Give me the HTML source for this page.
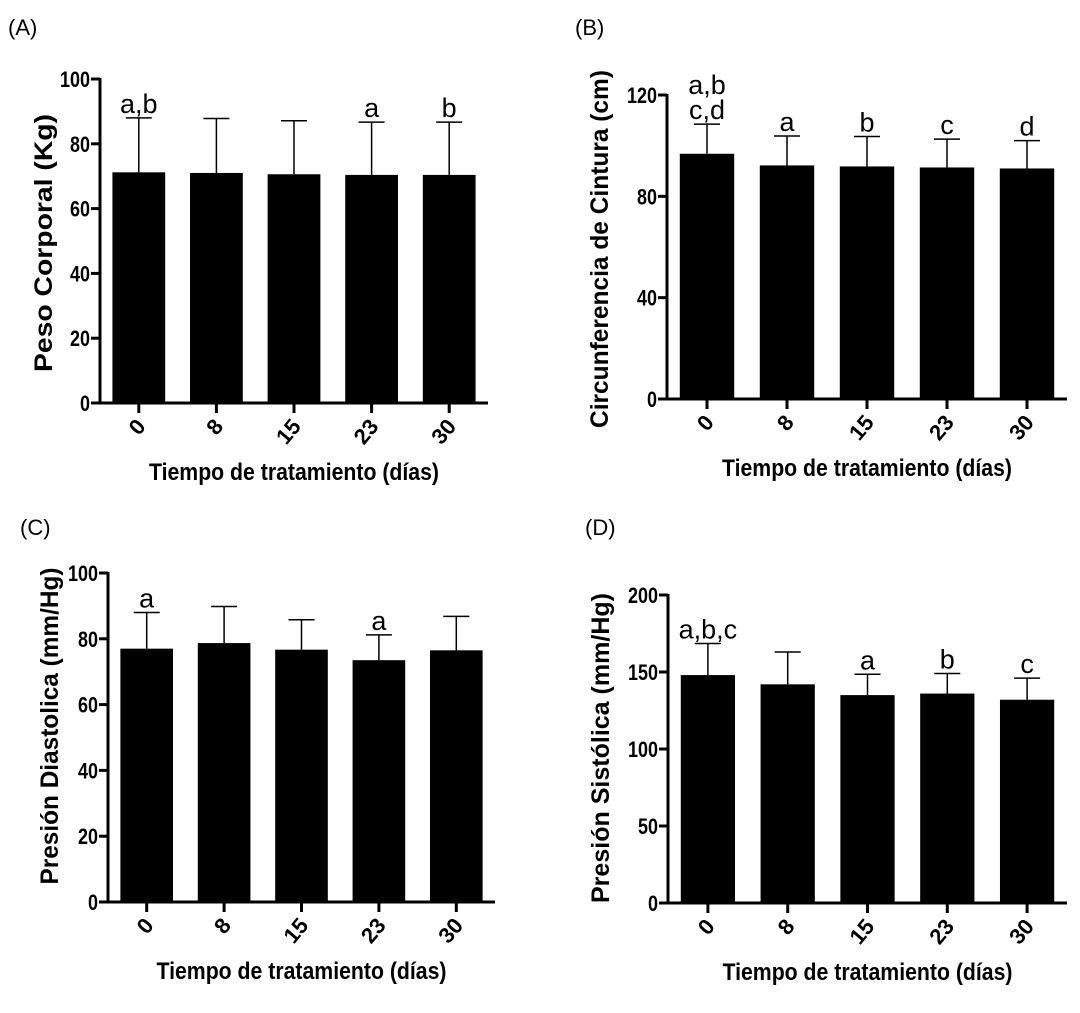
<!DOCTYPE html>
<html><head><meta charset="utf-8"><style>
html,body{margin:0;padding:0;background:#fff;}
svg{display:block;font-family:"Liberation Sans",Arial,sans-serif;}
</style></head><body>
<svg id="fig" width="1080" height="1013" viewBox="0 0 1080 1013" xmlns="http://www.w3.org/2000/svg">
<text x="8" y="35" font-size="22">(A)</text>
<text x="575" y="35" font-size="22">(B)</text>
<text x="20" y="535" font-size="22">(C)</text>
<text x="585" y="535" font-size="22">(D)</text>
</svg>
<script>
const categories = ["0","8","15","23","30"];
const valuesA = [71.2, 71.0, 70.6, 70.4, 70.4];
const errTopA = [88.0, 87.8, 87.1, 86.7, 86.7];
const lettersA = ["a,b","","","a","b"];
const ticksA = [0,20,40,60,80,100];
const valuesB = [96.8, 92.2, 91.8, 91.4, 91];
const errTopB = [108.5, 103.8, 103.6, 102.6, 102];
const lettersB = ["a,b|c,d","a","b","c","d"];
const ticksB = [0,40,80,120];
const valuesC = [77, 78.7, 76.7, 73.5, 76.5];
const errTopC = [88, 89.8, 85.8, 81.2, 86.8];
const lettersC = ["a","","","a",""];
const ticksC = [0,20,40,60,80,100];
const valuesD = [148, 142, 135, 136, 132];
const errTopD = [168.5, 163, 148.5, 149, 146];
const lettersD = ["a,b,c","","a","b","c"];
const ticksD = [0,50,100,150,200];
const NS = "http://www.w3.org/2000/svg";
const svg = document.getElementById('fig');
function mk(tag, attrs, parent){const e=document.createElementNS(NS,tag);for(const k in attrs)e.setAttribute(k,attrs[k]);(parent||svg).appendChild(e);return e;}
function panel(id, box, values, errTop, letters, ticks, ytitle, yt){
  const g = mk('g',{});
  
  
  const yMax = ticks[ticks.length-1];
  const y = v => box.y0 - (box.y0-box.y1)*v/yMax;
  const step = (box.x1-box.ax)/categories.length;
  const x = i => box.ax + step*(i+0.5);
  const bw = step*0.68;
  const ya = mk('line',{x1:box.ax,y1:box.y1-1,x2:box.ax,y2:box.y0,stroke:'#000','stroke-width':3},g);
  
  
  const xa = mk('line',{x1:box.ax-9,y1:box.y0,x2:box.x1,y2:box.y0,stroke:'#000','stroke-width':3},g);
  
  
  ticks.forEach(t=>{
    mk('line',{x1:box.ax-9,y1:y(t),x2:box.ax,y2:y(t),stroke:'#000','stroke-width':3},g);
    const s = String(t);
    const tl = mk('text',{x:box.ax-10,y:y(t)+8,'text-anchor':'end','font-size':22,'font-weight':'bold',textLength:s.length*10,lengthAdjust:'spacingAndGlyphs'},g);
    tl.textContent = s;
    
    
  });
  categories.forEach((c,i)=>{
    const cx = x(i);
    mk('line',{x1:cx,y1:y(values[i]),x2:cx,y2:y(errTop[i]),stroke:'#000','stroke-width':1.5},g);
    mk('line',{x1:cx-13,y1:y(errTop[i]),x2:cx+13,y2:y(errTop[i]),stroke:'#000','stroke-width':1.5},g);
    const b = mk('rect',{x:cx-bw/2,y:y(values[i]),width:bw,height:box.y0-y(values[i]),fill:'#000'},g);
    
    
    mk('line',{x1:cx,y1:box.y0,x2:cx,y2:box.y0+10,stroke:'#000','stroke-width':3},g);
    const tl = mk('text',{x:0,y:0,'text-anchor':'end','font-size':22,'font-weight':'bold',transform:`translate(${cx+8},${box.y0+24}) rotate(-50)`},g);
    tl.textContent = c;
    
    
    if(letters[i]){
      const parts = letters[i].split('|');
      parts.forEach((p,k)=>{
        const lt = mk('text',{x:cx,y:y(errTop[i])-5-(parts.length-1-k)*25,'text-anchor':'middle','font-size':27},g);
        lt.textContent = p;
        
        
      });
    }
  });
  const xt = mk('text',{x:(box.ax+box.x1)/2,y:box.y0+77,'text-anchor':'middle','font-size':24,'font-weight':'bold',textLength:290,lengthAdjust:'spacingAndGlyphs'},g);
  xt.textContent = 'Tiempo de tratamiento (días)';
  
  
  const ytl = mk('text',{x:0,y:0,'text-anchor':'middle','font-size':25,'font-weight':'bold',textLength:yt.len,lengthAdjust:'spacingAndGlyphs',transform:`translate(${yt.x},${yt.cy}) rotate(-90)`},g);
  ytl.textContent = ytitle;
  
  
}
panel('a',{ax:100,x1:488,y0:403,y1:79},valuesA,errTopA,lettersA,ticksA,'Peso Corporal (Kg)',{x:52,cy:243,len:258});
panel('b',{ax:667,x1:1067,y0:399,y1:95},valuesB,errTopB,lettersB,ticksB,'Circunferencia de Cintura (cm)',{x:608,cy:249,len:358});
panel('c',{ax:108,x1:495,y0:902,y1:573},valuesC,errTopC,lettersC,ticksC,'Presión Diastolica (mm/Hg)',{x:58,cy:726,len:317});
panel('d',{ax:668,x1:1067,y0:903,y1:595},valuesD,errTopD,lettersD,ticksD,'Presión Sistólica (mm/Hg)',{x:609,cy:748,len:310});
</script>
</body></html>
